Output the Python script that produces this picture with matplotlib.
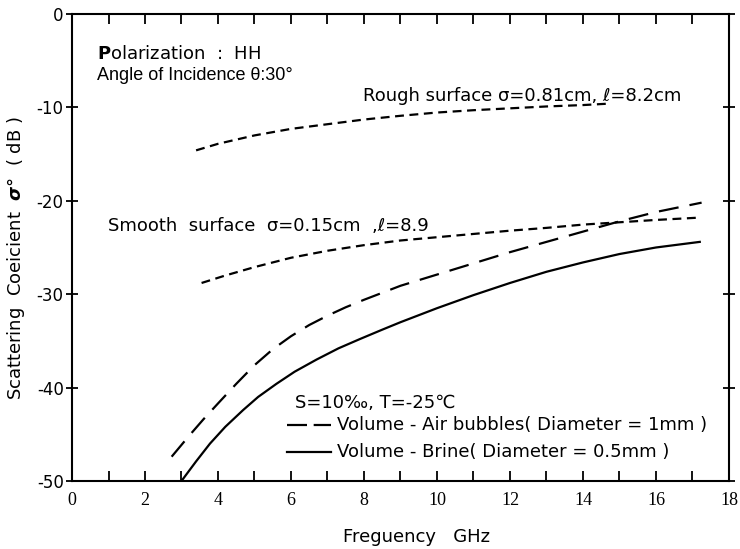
import matplotlib
matplotlib.use("Agg")
import matplotlib.pyplot as plt
from matplotlib.ticker import MultipleLocator

plt.rcParams['axes.unicode_minus'] = False

# Rough surface (sigma=0.81cm, l=8.2cm)
rough_f = [3.4, 4.0, 5.0, 6.0, 7.0, 8.0, 9.0, 10.0, 11.0, 12.0, 13.0, 14.0, 14.7]
rough_db = [-14.6, -13.9, -13.0, -12.3, -11.8, -11.3, -10.9, -10.55, -10.3, -10.1, -9.9, -9.75, -9.6]

# Smooth surface (sigma=0.15cm, l=8.9)
smooth_f = [3.55, 4.2, 5.0, 6.0, 7.0, 8.0, 9.0, 10.0, 11.0, 12.0, 13.0, 14.0, 15.0, 16.0, 17.2]
smooth_db = [-28.8, -28.0, -27.1, -26.1, -25.35, -24.75, -24.25, -23.9, -23.55, -23.2, -22.9, -22.55, -22.3, -22.05, -21.8]

# Volume - Air bubbles (Diameter = 1mm)
air_f = [2.73, 3.2, 3.6, 4.0, 4.5, 5.0, 5.5, 6.0, 6.5, 7.0, 7.5, 8.0, 9.0, 10.0, 11.0, 12.0, 13.0, 14.0, 15.0, 16.0, 17.25]
air_db = [-47.4, -45.2, -43.4, -41.7, -39.6, -37.6, -35.9, -34.5, -33.3, -32.3, -31.4, -30.6, -29.1, -27.9, -26.7, -25.5, -24.4, -23.3, -22.2, -21.2, -20.2]

# Volume - Brine (Diameter = 0.5mm)
brine_f = [3.0, 3.4, 3.78, 4.2, 4.69, 5.1, 5.6, 6.1, 6.7, 7.3, 7.89, 8.5, 9.0, 10.0, 11.0, 12.0, 13.0, 14.0, 15.0, 16.0, 17.2]
brine_db = [-50.0, -47.9, -46.0, -44.2, -42.4, -41.0, -39.6, -38.3, -37.0, -35.8, -34.8, -33.8, -33.0, -31.5, -30.1, -28.8, -27.6, -26.6, -25.7, -25.0, -24.4]

x_ticks = [0, 2, 4, 6, 8, 10, 12, 14, 16, 18]
y_ticks = [0, -10, -20, -30, -40, -50]

fig = plt.figure(figsize=(7.4, 5.49), dpi=100)
ax = fig.add_axes([0.0973, 0.1239, 0.8878, 0.8506])

lw = 1.6
ax.plot(rough_f, rough_db, color='black', lw=lw, dashes=(4, 2.5))
ax.plot(smooth_f, smooth_db, color='black', lw=lw, dashes=(4, 2.5))
ax.plot(air_f, air_db, color='black', lw=lw, dashes=(9, 5))
ax.plot(brine_f, brine_db, color='black', lw=lw)

ax.set_xlim(0, 18)
ax.set_ylim(-50, 0)
ax.set_xticks(x_ticks)
ax.set_yticks(y_ticks)
ax.set_xticklabels([str(v) for v in x_ticks], family='Liberation Serif', fontsize=13)
ax.set_yticklabels([str(v) for v in y_ticks], family='DejaVu Sans', fontsize=12)
ax.xaxis.set_minor_locator(MultipleLocator(1))
ax.tick_params(axis='x', which='both', direction='in', top=True, length=7, width=1.3, pad=8)
ax.tick_params(axis='y', which='both', direction='inout', right=True, length=8, width=1.3, pad=2)
for s in ax.spines.values():
    s.set_linewidth(1.5)

ax.set_xlabel('Freguency   GHz', family='DejaVu Sans', fontsize=13)
ax.xaxis.set_label_coords(0.524, -0.100)
ax.set_ylabel('Scattering  Coeicient  $\\boldsymbol{\\sigma}$°  ( dB )', family='DejaVu Sans', fontsize=13)
ax.yaxis.set_label_coords(-0.068, 0.477)

tf = dict(family='DejaVu Sans', fontsize=13, va='center', ha='left')
ax.text(0.68, -4.3, r'$\mathbf{P}$olarization  :  HH', **tf)
ax.text(0.68, -6.6, 'Angle of Incidence θ:30°', family='Liberation Sans', fontsize=13, va='center', ha='left')
ax.text(7.97, -8.75, 'Rough surface σ=0.81cm, ℓ=8.2cm', **tf)
ax.text(0.99, -22.7, 'Smooth  surface  σ=0.15cm  ,ℓ=8.9', **tf)
ax.text(6.1, -41.7, 'S=10‰, T=-25℃', **tf)
ax.plot([5.9, 7.1], [-44.0, -44.0], color='black', lw=lw, dashes=(9, 3))
ax.text(7.25, -44.0, 'Volume - Air bubbles( Diameter = 1mm )', **tf)
ax.plot([5.9, 7.1], [-46.9, -46.9], color='black', lw=lw)
ax.text(7.25, -46.9, 'Volume - Brine( Diameter = 0.5mm )', **tf)

fig.savefig('out.png', dpi=100)
